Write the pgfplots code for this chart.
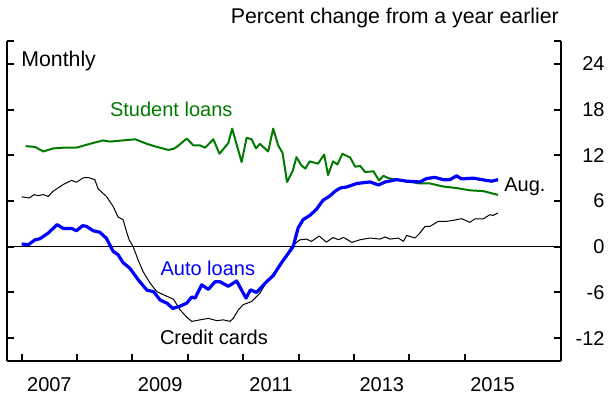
\documentclass[border=0pt]{standalone}
\usepackage{fontspec}
\setmainfont{Liberation Sans}
\usepackage{pgfplots}
\pgfplotsset{compat=1.18}
\definecolor{slgreen}{RGB}{0,122,0}
\definecolor{alblue}{RGB}{0,0,255}
\newcommand\cf{\fontsize{20}{24}\selectfont}
\newcommand\cfb{\fontsize{21.3}{25}\selectfont}

\begin{document}
\begin{tikzpicture}
\useasboundingbox (-7pt,-35pt) rectangle (603pt,361pt);
\begin{axis}[
    scale only axis,
    width=553.7pt, height=320pt,
    xmin=2006.735, xmax=2016.73,
    ymin=-15, ymax=27,
    axis x line*=bottom,
    axis y line*=box,
    axis line style={-, line width=2.2pt},
    tick align=inside,
    tick style={black, line width=2pt},
    major tick length=7pt,
    minor tick length=7pt,
    xtick={2007.5,2009.5,2011.5,2013.5,2015.5},
    xticklabels={2007,2009,2011,2013,2015},
    major x tick style={draw=none},
    minor xtick={2007,2008,...,2015},
    ytick={-12,-6,0,6,12,18,24},
    yticklabels={-12,-6,0,6,12,18,24},
    extra y ticks={27},
    extra y tick labels={},
    yticklabel pos=right,
    tick label style={font=\cf},
    xticklabel style={anchor=north, inner sep=0pt, yshift=-16pt},
    yticklabel style={anchor=east, inner sep=0pt, xshift=44pt},
    clip=false,
]
% zero line
\addplot[black, line width=1pt] coordinates {(2006.735,0) (2016.73,0)};

% credit cards
\addplot[black, line width=1pt, line join=round] coordinates {
(2007.00,6.54) (2007.14,6.4) (2007.22,6.84) (2007.30,6.7) (2007.39,6.84)
(2007.48,6.6) (2007.57,7.3) (2007.75,8.16) (2007.90,8.7) (2007.99,8.46)
(2008.11,9.04) (2008.20,9.08) (2008.32,8.8) (2008.38,7.6) (2008.53,6.6)
(2008.65,5.3) (2008.74,3.9) (2008.83,3.55) (2008.90,1.8) (2008.94,0.9)
(2009.01,0.04) (2009.10,-1.7) (2009.19,-3.25) (2009.32,-4.8) (2009.44,-5.9)
(2009.62,-6.5) (2009.74,-6.9) (2009.86,-8.3) (2009.98,-9.25) (2010.07,-9.8)
(2010.22,-9.6) (2010.37,-9.4) (2010.52,-9.7) (2010.64,-9.6) (2010.76,-9.8)
(2010.82,-9.4) (2010.91,-8.3) (2011.00,-7.6) (2011.15,-7.2) (2011.30,-6.1)
(2011.45,-4.3) (2011.66,-2.6) (2011.87,0.04) (2012.02,0.9) (2012.14,1.0)
(2012.23,0.7) (2012.37,1.4) (2012.50,0.6) (2012.62,1.2) (2012.72,0.92)
(2012.81,1.22) (2012.96,0.57) (2013.11,0.92) (2013.29,1.14) (2013.47,1.0)
(2013.56,1.28) (2013.65,1.0) (2013.80,1.14) (2013.89,0.7) (2013.95,1.49)
(2014.10,1.14) (2014.19,1.8) (2014.28,2.67) (2014.37,2.67) (2014.52,3.33)
(2014.67,3.33) (2014.79,3.46) (2014.94,3.68) (2015.09,3.2) (2015.18,3.64)
(2015.33,3.64) (2015.45,4.2) (2015.51,4.1) (2015.60,4.43)
};

% student loans
\addplot[slgreen, line width=2pt, line join=round] coordinates {
(2007.07,13.2) (2007.24,13.1) (2007.39,12.5) (2007.57,12.9) (2007.75,13.0)
(2007.99,13.0) (2008.23,13.5) (2008.47,13.95) (2008.59,13.8) (2008.83,13.95)
(2009.05,14.1) (2009.26,13.5) (2009.44,13.1) (2009.65,12.7) (2009.74,12.85)
(2009.80,13.1) (2009.98,14.2) (2010.10,13.3) (2010.22,13.3) (2010.31,13.0)
(2010.46,14.1) (2010.57,12.2) (2010.73,13.6) (2010.80,15.5) (2010.97,11.1)
(2011.06,14.3) (2011.15,14.1) (2011.23,12.9) (2011.30,13.5) (2011.45,12.5)
(2011.54,15.5) (2011.63,13.3) (2011.71,12.3) (2011.79,8.5) (2011.89,9.9)
(2011.96,11.75) (2012.05,10.66) (2012.12,10.26) (2012.20,11.2) (2012.35,10.9)
(2012.46,12.1) (2012.53,9.4) (2012.62,11.2) (2012.70,10.8) (2012.79,12.2)
(2012.93,11.7) (2013.02,10.5) (2013.11,10.6) (2013.20,9.8) (2013.35,9.9)
(2013.45,8.7) (2013.53,9.3) (2013.62,9.0) (2013.77,8.8) (2013.95,8.6)
(2014.19,8.3) (2014.37,8.3) (2014.61,7.9) (2014.85,7.7) (2015.09,7.4)
(2015.33,7.3) (2015.60,6.8)
};

% auto loans
\addplot[alblue, line width=3.2pt, line join=round] coordinates {
(2007.00,0.36) (2007.12,0.26) (2007.24,0.9) (2007.33,1.05) (2007.48,1.8)
(2007.64,2.9) (2007.75,2.4) (2007.90,2.4) (2007.99,2.1) (2008.10,2.76)
(2008.17,2.67) (2008.29,2.1) (2008.41,1.9) (2008.53,1.1) (2008.65,-0.6)
(2008.74,-1.05) (2008.83,-2.1) (2008.95,-2.8) (2009.10,-4.3) (2009.26,-5.7)
(2009.38,-5.9) (2009.50,-7.0) (2009.62,-7.4) (2009.73,-8.1) (2009.86,-7.8)
(2009.98,-7.4) (2010.07,-6.6) (2010.13,-6.75) (2010.25,-5.0) (2010.37,-5.6)
(2010.49,-4.6) (2010.58,-4.6) (2010.73,-5.2) (2010.88,-4.5) (2011.05,-6.75)
(2011.13,-5.66) (2011.24,-6.0) (2011.42,-4.6) (2011.54,-3.8) (2011.69,-2.1)
(2011.84,-0.6) (2011.90,0.0) (2011.99,2.46) (2012.08,3.55) (2012.20,4.1)
(2012.32,4.9) (2012.44,6.1) (2012.57,6.7) (2012.66,7.3) (2012.75,7.7)
(2012.87,7.85) (2013.05,8.3) (2013.29,8.5) (2013.44,8.1) (2013.56,8.5)
(2013.77,8.8) (2013.95,8.6) (2014.19,8.5) (2014.31,8.95) (2014.46,9.1)
(2014.61,8.8) (2014.73,8.8) (2014.85,9.3) (2014.94,8.9) (2015.15,9.0)
(2015.39,8.7) (2015.48,8.6) (2015.60,8.8)
};

\node[font=\cfb, anchor=west, inner sep=0pt] at (axis cs:2006.99,24.4) {Monthly};
\node[font=\cf, text=slgreen, inner sep=0pt] at (axis cs:2009.70,18.0) {Student loans};
\node[font=\cf, text=alblue, inner sep=0pt] at (axis cs:2010.36,-2.9) {Auto loans};
\node[font=\cf, inner sep=0pt] at (axis cs:2010.47,-11.85) {Credit cards};
\node[font=\cf, anchor=west, inner sep=0pt] at (axis cs:2015.71,7.9) {Aug.};
\node[font=\cfb, anchor=east, inner sep=0pt, xshift=-1.7pt, yshift=23pt] at (rel axis cs:1,1) {Percent change from a year earlier};
\end{axis}
\end{tikzpicture}
\end{document}
